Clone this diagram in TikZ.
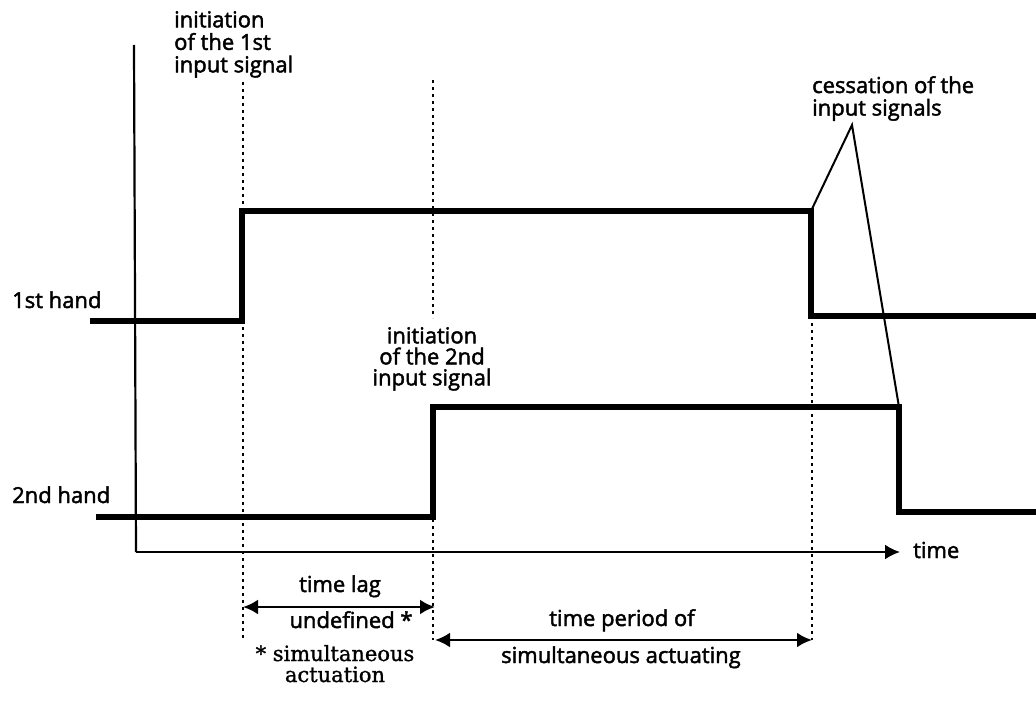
\documentclass[tikz,border=0pt]{standalone}
\usepackage{fontspec}
\setmainfont{Open Sans}[FakeBold=2]
\newfontfamily\notefont{DejaVu Serif}[FakeBold=1.2]
\usetikzlibrary{arrows.meta}
\begin{document}
\begin{tikzpicture}[x=1pt,y=-1pt,
  lbl/.style={font=\fontsize{22}{22.5}\selectfont, inner sep=0pt, align=left},
  note/.style={font=\notefont\fontsize{21}{21}\selectfont, inner sep=0pt, align=center},
  sig/.style={line width=5.5pt, line join=miter},
  axis/.style={line width=2.2pt},
  dots/.style={line width=2.2pt, dash pattern=on 3pt off 4pt},
  leader/.style={line width=2pt},
  tip/.tip={Latex[length=15pt,width=15pt]},
  dim/.style={line width=2.6pt, tip-tip},
]
\useasboundingbox (0,0) rectangle (1036,706);
% coordinates
\coordinate (ytop) at (134,45);
\coordinate (orig) at (136,552);
\coordinate (tend) at (900,552);
\coordinate (a0) at (90,321);
\coordinate (a1) at (242,321);
\coordinate (a2) at (242,211);
\coordinate (a3) at (811,211);
\coordinate (a4) at (811,316);
\coordinate (a5) at (1036,316);
\coordinate (b0) at (96,517);
\coordinate (b1) at (433,517);
\coordinate (b2) at (433,407);
\coordinate (b3) at (899,407);
\coordinate (b4) at (899,512);
\coordinate (b5) at (1036,512);
\coordinate (apex) at (852,125);
\coordinate (d1t) at (243,82);
\coordinate (d1b) at (243,640);
\coordinate (d2t) at (433,80);
\coordinate (d2m) at (433,318);
\coordinate (d2n) at (433,407);
\coordinate (d2b) at (433,640);
\coordinate (d3t) at (812,211);
\coordinate (d3b) at (812,640);
\coordinate (lagL) at (243,607);
\coordinate (lagR) at (435,607);
\coordinate (perL) at (435,640);
\coordinate (perR) at (812,640);
% dotted guides
\draw[dots] (d1t) -- (d1b);
\draw[dots] (d2t) -- (d2m);
\draw[dots] (d2n) -- (d2b);
\draw[dots] (d3t) -- (d3b);
% axes
\draw[axis] (ytop) -- (orig);
\draw[axis, -{Latex[length=15pt,width=15pt]}] (orig) -- (tend);
% signals
\draw[sig] (a0) -- (a1) -- (a2) -- (a3) -- (a4) -- (a5);
\draw[sig] (b0) -- (b1) -- (b2) -- (b3) -- (b4) -- (b5);
% leaders
\draw[leader] (a3) -- (apex) -- (b3);
% dimension arrows
\draw[dim] (lagL) -- (lagR);
\draw[dim] (perL) -- (perR);
% labels
\node[lbl, anchor=base west] (time) at (913,558) {time};
\node[lbl, anchor=base west] (h1) at (12,308) {1st hand};
\node[lbl, anchor=base west] (h2) at (12,503) {2nd hand};
\node[lbl, anchor=north west] (init1) at (174,11) {initiation\\of the 1st\\input signal};
\node[lbl, anchor=north, align=center, font=\fontsize{22}{21}\selectfont] (init2) at (432,327) {initiation\\of the 2nd\\input signal};
\node[lbl, anchor=north west] (cess) at (812,76) {cessation of the\\input signals};
\node[lbl, anchor=base] (lag) at (340,592) {time lag};
\node[lbl, anchor=base] (undef) at (351,628) {undefined *};
\node[lbl, anchor=base] (per) at (622,626) {time period of};
\node[lbl, anchor=base] (simul) at (621,663) {simultaneous actuating};
\node[note, anchor=base] (fn) at (335,682) {* simultaneous\\actuation};
\end{tikzpicture}
\end{document}
